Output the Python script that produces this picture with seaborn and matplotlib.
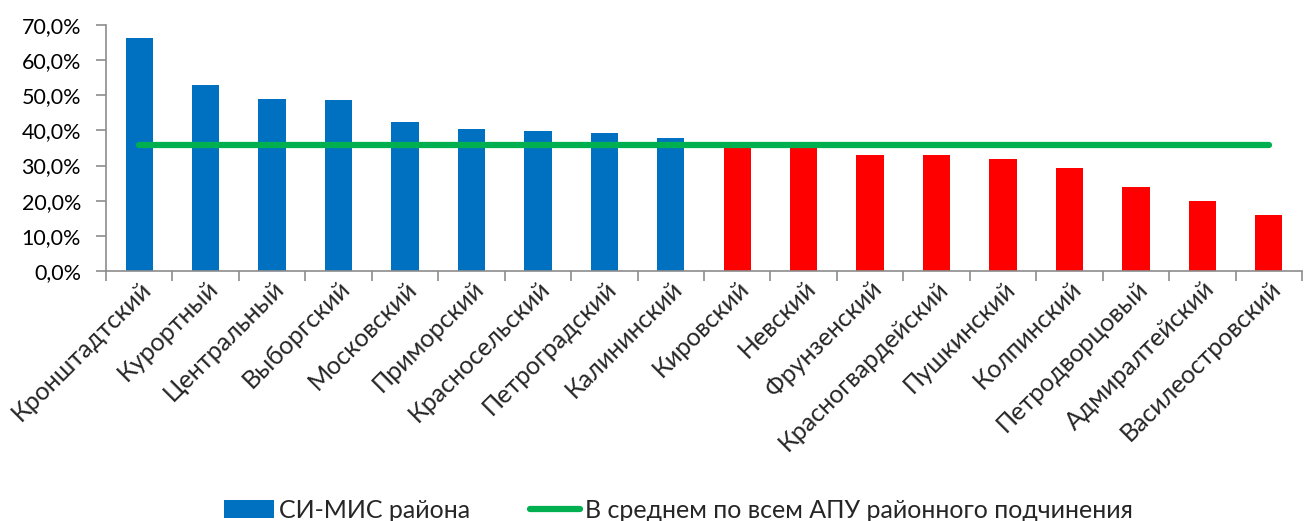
import numpy as np
import pandas as pd
import matplotlib
matplotlib.use("Agg")
import matplotlib.pyplot as plt
import seaborn as sns
from matplotlib.patches import Patch
from matplotlib.lines import Line2D
from matplotlib.ticker import FuncFormatter, MultipleLocator

districts = ["Кронштадтский", "Курортный", "Центральный", "Выборгский", "Московский",
             "Приморский", "Красносельский", "Петроградский", "Калининский", "Кировский",
             "Невский", "Фрунзенский", "Красногвардейский", "Пушкинский", "Колпинский",
             "Петродворцовый", "Адмиралтейский", "Василеостровский"]
si_mis = [66.4, 52.9, 48.9, 48.8, 42.3, 40.3, 39.9, 39.4, 37.9, 35.4,
          34.9, 33.1, 32.9, 32.0, 29.4, 24.0, 20.0, 16.0]
average = 35.9
series_names = ["СИ-МИС района", "В среднем по всем АПУ районного подчинения"]

BLUE = "#0070C0"
RED = "#FF0000"
GREEN = "#00B050"
GRAY = "#8C8C8C"

sns.set_theme(style="white")
plt.rcParams["font.family"] = ["Lato", "DejaVu Sans"]

df = pd.DataFrame({"district": districts, "value": si_mis})
colors = [BLUE if v > average else RED for v in si_mis]

fig = plt.figure(figsize=(13.13, 5.21), dpi=100)
ax = fig.add_axes([106 / 1313, 1 - 271 / 521, (1302 - 106) / 1313, (271 - 25) / 521])

sns.barplot(data=df, x="district", y="value", hue="district", palette=colors,
            legend=False, width=0.41, saturation=1, ax=ax, linewidth=0)
sns.lineplot(x=np.arange(len(districts)), y=np.full(len(districts), average),
             color=GREEN, linewidth=4.5, solid_capstyle="round", ax=ax)

ax.set_xlim(-0.5, len(districts) - 0.5)
ax.set_ylim(0, 70)
ax.yaxis.set_major_locator(MultipleLocator(10))
ax.yaxis.set_major_formatter(FuncFormatter(lambda v, p: f"{v:.1f}%".replace(".", ",")))
ax.set_xlabel("")
ax.set_ylabel("")

for s in ["top", "right"]:
    ax.spines[s].set_visible(False)
for s in ["left", "bottom"]:
    ax.spines[s].set_color(GRAY)
    ax.spines[s].set_linewidth(1.2)

ax.tick_params(axis="y", which="major", direction="out", length=7, width=1.2,
               color=GRAY, labelsize=15.5, pad=11, left=True, labelcolor="black")
ax.tick_params(axis="x", which="major", length=0, pad=4, labelsize=18)
ax.set_xticks(np.arange(len(districts)))
ax.set_xticks(np.arange(-0.5, len(districts), 1), minor=True)
ax.tick_params(axis="x", which="minor", direction="out", length=7, width=1.2,
               color=GRAY, bottom=True)
ax.set_xticklabels(districts, rotation=45, ha="right", va="top",
                   rotation_mode="anchor", fontsize=18)

handles = [Patch(facecolor=BLUE, edgecolor="none"),
           Line2D([0], [0], color=GREEN, linewidth=4.5, solid_capstyle="round")]
fig.legend(handles, series_names, loc="lower center", bbox_to_anchor=(0.517, -0.045),
           ncol=2, frameon=False, fontsize=18, handlelength=2.0, handleheight=0.7,
           handletextpad=0.2, columnspacing=2.4)

fig.savefig("out.png", dpi=100)
